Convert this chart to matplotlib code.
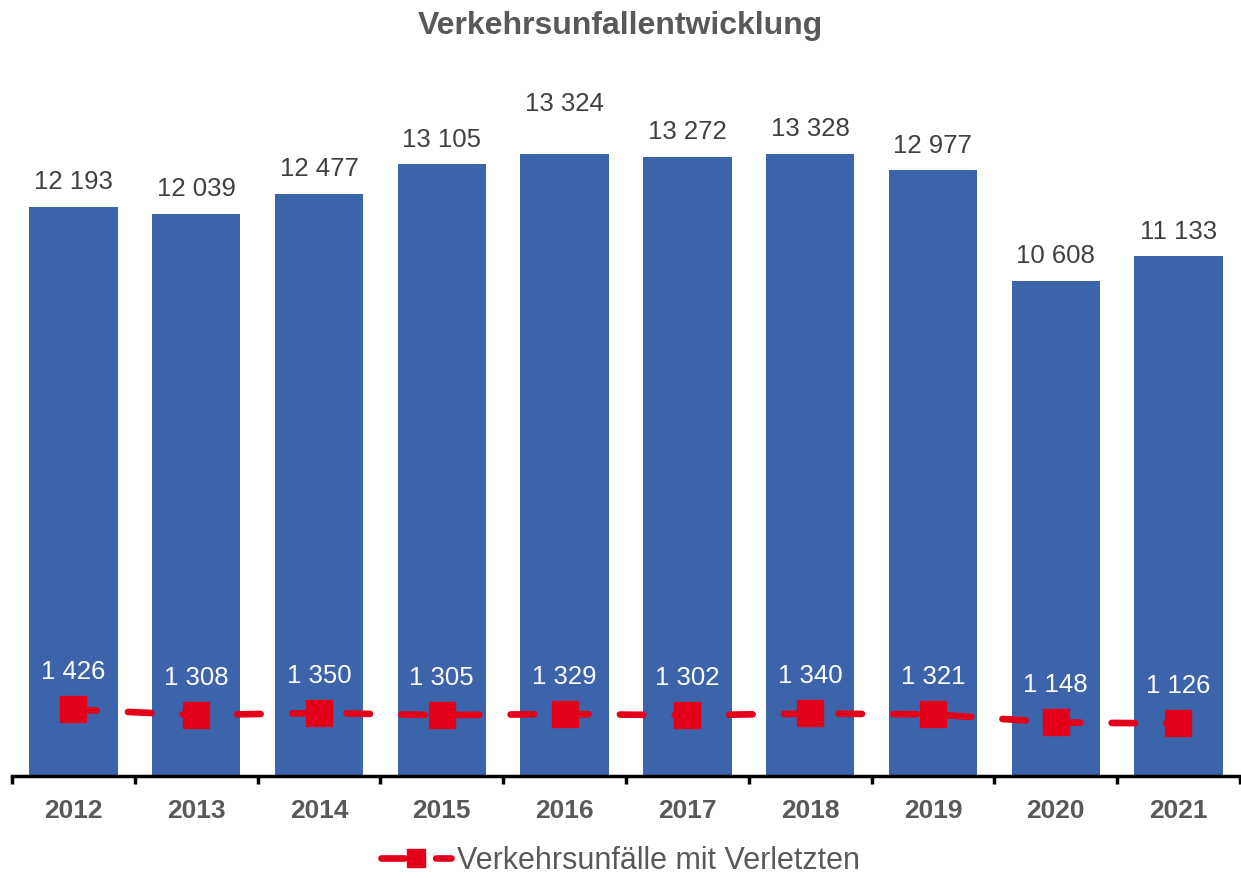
import matplotlib
matplotlib.use("Agg")
import matplotlib.pyplot as plt
import numpy as np

years = ["2012", "2013", "2014", "2015", "2016", "2017", "2018", "2019", "2020", "2021"]
unfaelle = [12193, 12039, 12477, 13105, 13324, 13272, 13328, 12977, 10608, 11133]
verletzte = [1426, 1308, 1350, 1305, 1329, 1302, 1340, 1321, 1148, 1126]
title = "Verkehrsunfallentwicklung"
legend_label = "Verkehrsunfälle mit Verletzten"

def fmt(v):
    return f"{v:,}".replace(",", " ")

plt.rcParams['font.family'] = ['Liberation Sans', 'DejaVu Sans']

BAR = "#3C64AB"
RED = "#E2001A"
GREY = "#595959"

fig = plt.figure(figsize=(12.41, 8.79), dpi=100)
ax = fig.add_axes([0.0097, 0.116, 0.9894, 0.7964])
x = np.arange(len(years))
ax.bar(x, unfaelle, width=0.72, color=BAR, zorder=1)
line, = ax.plot(x, verletzte, color=RED, lw=4.8, ls=(0, (3.5, 4.7)), dash_capstyle='round',
                marker='s', markersize=19, markerfacecolor=RED, markeredgecolor=RED,
                zorder=3, label=legend_label)

ax.set_xlim(-0.5, len(years) - 0.5)
ax.set_ylim(0, 15000)
for s in ['top', 'right', 'left']:
    ax.spines[s].set_visible(False)
ax.spines['bottom'].set_linewidth(2.5)
ax.spines['bottom'].set_color('black')
ax.set_yticks([])
ax.set_xticks(x)
ax.set_xticklabels(years, fontsize=19, fontweight='bold', color=GREY)
ax.tick_params(axis='x', which='major', length=0, pad=16)
ax.set_xticks(np.arange(-0.5, len(years)), minor=True)
ax.tick_params(axis='x', which='minor', length=6, width=2.5, color='black')

extra = [0, 0, 0, 0, 18, 0, 0, 0, 0, 0]
for i, v in enumerate(unfaelle):
    ax.annotate(fmt(v), (x[i], v), xytext=(0, 10 + extra[i]), textcoords='offset points',
                ha='center', va='bottom', fontsize=18.5, color='#404040')
for i, v in enumerate(verletzte):
    ax.annotate(fmt(v), (x[i], v), xytext=(0, 19), textcoords='offset points',
                ha='center', va='bottom', fontsize=18.5, color='white')

fig.text(0.5, 0.97, title, ha='center', va='center', fontsize=23, fontweight='bold', color=GREY)

fig.legend(handles=[line], loc='center', bbox_to_anchor=(0.5, 0.02), frameon=False,
           fontsize=22, labelcolor=GREY, handlelength=2.3, handletextpad=0.2, markerscale=0.7)

fig.savefig("out.png", dpi=100)
